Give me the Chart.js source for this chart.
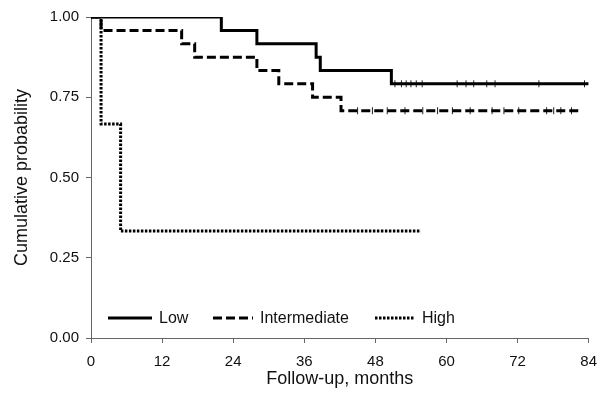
<!DOCTYPE html>
<html>
<head>
<meta charset="utf-8">
<script src="https://cdn.jsdelivr.net/npm/chart.js@4/dist/chart.umd.min.js"></script>
<style>
  html, body { margin: 0; padding: 0; background: #fff; }
  #wrap { width: 607px; height: 393px; }
</style>
</head>
<body>
<div id="wrap"><canvas id="c" width="607" height="393"></canvas></div>
<script>
// ---- data ----
const seriesNames = ["Low", "Intermediate", "High"];

const lowTime = [0, 22, 28, 38, 38.7, 50.7, 84];
const lowSurv = [1, 0.958, 0.917, 0.875, 0.833, 0.792, 0.792];

const intTime = [0, 1.7, 15.3, 17.5, 28, 31.7, 37.4, 42.2, 82.5];
const intSurv = [1, 0.958, 0.917, 0.875, 0.833, 0.792, 0.75, 0.708, 0.708];

const highTime = [0, 1.7, 5, 55.7];
const highSurv = [1, 0.667, 0.333, 0.333];

const lowCensorTime = [51.3, 52.4, 53.2, 54.0, 54.9, 55.9, 61.8, 63.3, 64.6, 66.8, 68.2, 75.6, 83.3];
const lowCensorSurv = [0.792, 0.792, 0.792, 0.792, 0.792, 0.792, 0.792, 0.792, 0.792, 0.792, 0.792, 0.792, 0.792];

const intCensorTime = [45, 47.5, 50, 53, 56, 58.5, 61, 64, 67.7, 69.7, 72.2, 76.9, 78.1, 79.3, 81.1];
const intCensorSurv = [0.708, 0.708, 0.708, 0.708, 0.708, 0.708, 0.708, 0.708, 0.708, 0.708, 0.708, 0.708, 0.708, 0.708, 0.708];

const xTicks = [0, 12, 24, 36, 48, 60, 72, 84];
const yTicks = [0, 0.25, 0.5, 0.75, 1.0];

const xTitle = "Follow-up, months";
const yTitle = "Cumulative probability";

// ---- build datasets ----
function pts(xs, ys) { return xs.map((x, i) => ({ x: x, y: ys[i] })); }

const FONT = "'Liberation Sans', Arial, sans-serif";

const lineStyles = [
  { borderDash: [], borderWidth: 3 },
  { borderDash: [9, 4], borderWidth: 3 },
  { borderDash: [2.5, 1.5], borderWidth: 3 }
];

const datasets = [
  { label: seriesNames[0], data: pts(lowTime, lowSurv), stepped: 'before', borderColor: '#000', pointRadius: 0, fill: false, ...lineStyles[0], isMain: true },
  { label: seriesNames[1], data: pts(intTime, intSurv), stepped: 'before', borderColor: '#000', pointRadius: 0, fill: false, ...lineStyles[1], isMain: true },
  { label: seriesNames[2], data: pts(highTime, highSurv), stepped: 'before', borderColor: '#000', pointRadius: 0, fill: false, ...lineStyles[2], isMain: true },
  { label: 'censor-low', type: 'scatter', data: pts(lowCensorTime, lowCensorSurv), showLine: false, pointStyle: 'line', rotation: 90, pointRadius: 3.5, borderColor: '#222', borderWidth: 1 },
  { label: 'censor-int', type: 'scatter', data: pts(intCensorTime, intCensorSurv), showLine: false, pointStyle: 'line', rotation: 90, pointRadius: 3.5, borderColor: '#222', borderWidth: 1 }
];

// legend drawn inside the plot area
const innerLegend = {
  id: 'innerLegend',
  afterDraw(chart) {
    const ctx = chart.ctx;
    const area = chart.chartArea;
    const y = area.bottom - 20;
    const items = [
      { x0: area.left + 17, len: 44 },
      { x0: area.left + 122, len: 40 },
      { x0: area.left + 284, len: 40 }
    ];
    ctx.save();
    ctx.font = "16px " + FONT;
    ctx.fillStyle = '#111';
    ctx.textBaseline = 'middle';
    chart.data.datasets.filter(d => d.isMain).forEach((ds, i) => {
      const it = items[i];
      ctx.beginPath();
      ctx.setLineDash(ds.borderDash || []);
      ctx.lineWidth = ds.borderWidth;
      ctx.strokeStyle = '#000';
      ctx.moveTo(it.x0, y);
      ctx.lineTo(it.x0 + it.len, y);
      ctx.stroke();
      ctx.setLineDash([]);
      ctx.fillText(ds.label, it.x0 + it.len + 7, y + 1);
    });
    ctx.restore();
  }
};

new Chart(document.getElementById('c'), {
  type: 'line',
  data: { datasets: datasets },
  plugins: [innerLegend],
  options: {
    responsive: false,
    animation: false,
    layout: { padding: { left: 0, right: 17, top: 17, bottom: 0 } },
    plugins: { legend: { display: false }, tooltip: { enabled: false } },
    scales: {
      x: {
        type: 'linear',
        min: 0, max: 84,
        afterBuildTicks: (s) => { s.ticks = xTicks.map(v => ({ value: v })); },
        afterFit: (s) => { s.height = 55; },
        ticks: { color: '#111', font: { family: FONT, size: 15 }, padding: 10, maxRotation: 0, autoSkip: false },
        grid: { drawOnChartArea: false, drawTicks: true, tickLength: 5, color: '#666', lineWidth: 1 },
        border: { display: true, color: '#666', width: 1 },
        title: { display: true, text: xTitle, color: '#111', font: { family: FONT, size: 18 }, padding: { top: 0, bottom: 3 } }
      },
      y: {
        type: 'linear',
        min: 0, max: 1,
        afterBuildTicks: (s) => { s.ticks = yTicks.map(v => ({ value: v })); },
        afterFit: (s) => { s.width = 91; },
        ticks: { color: '#111', font: { family: FONT, size: 15 }, padding: 7, callback: (v) => Number(v).toFixed(2) },
        grid: { drawOnChartArea: false, drawTicks: true, tickLength: 5, color: '#666', lineWidth: 1 },
        border: { display: true, color: '#666', width: 1 },
        title: { display: true, text: yTitle, color: '#111', font: { family: FONT, size: 18 }, padding: { top: 11, bottom: 0 } }
      }
    }
  }
});
</script>
</body>
</html>
